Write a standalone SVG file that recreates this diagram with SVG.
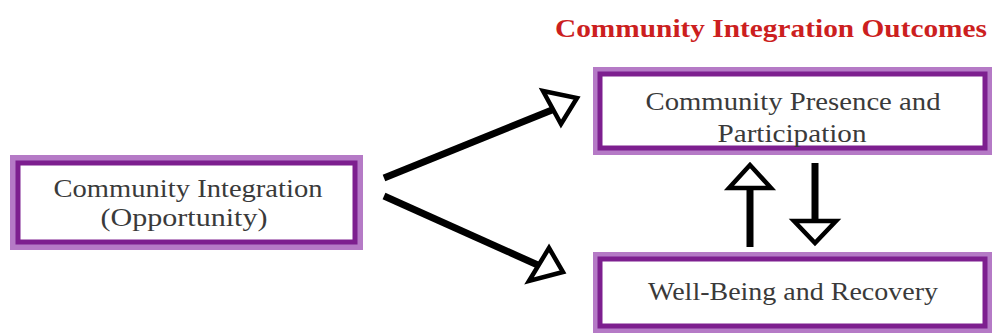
<svg xmlns="http://www.w3.org/2000/svg" width="993" height="333" viewBox="0 0 993 333">
<style>
.outer{fill:#b57ac6}
.inner{fill:#fff;stroke:#7d1f8f;stroke-width:5}
.lbl{font-family:"Liberation Serif","Times New Roman",serif;font-size:25px;fill:#3a3a3a;text-anchor:middle}
.title{font-family:"Liberation Serif","Times New Roman",serif;font-size:26px;font-weight:bold;fill:#cc1f1f}
.ln{stroke:#000;stroke-width:7;fill:none;stroke-linecap:butt}
.hd{fill:#fff;stroke:#000;stroke-width:4.5;stroke-linejoin:miter}
</style>
<rect width="993" height="333" fill="#fff"/>
<text class="title" x="555" y="37" textLength="432" lengthAdjust="spacingAndGlyphs">Community Integration Outcomes</text>
<g id="node-opportunity">
<rect class="outer" x="10" y="155" width="353" height="95"/>
<rect class="inner" x="18" y="163" width="337" height="79"/>
<text class="lbl" x="188" y="197" textLength="269" lengthAdjust="spacingAndGlyphs">Community Integration</text>
<text class="lbl" x="184" y="226" textLength="167" lengthAdjust="spacingAndGlyphs">(Opportunity)</text>
</g>
<g id="node-presence">
<rect class="outer" x="593" y="67" width="399" height="88"/>
<rect class="inner" x="600" y="74" width="385" height="74"/>
<text class="lbl" x="793" y="110" textLength="295" lengthAdjust="spacingAndGlyphs">Community Presence and</text>
<text class="lbl" x="792" y="142" textLength="149" lengthAdjust="spacingAndGlyphs">Participation</text>
</g>
<g id="node-wellbeing">
<rect class="outer" x="593" y="252" width="399" height="81"/>
<rect class="inner" x="600" y="259" width="385" height="67"/>
<text class="lbl" x="793" y="300" textLength="290" lengthAdjust="spacingAndGlyphs">Well-Being and Recovery</text>
</g>
<g id="connectors">
<line class="ln" x1="384" y1="178" x2="552" y2="110"/>
<polygon class="hd" points="543,91 577,98 561,124"/>
<line class="ln" x1="384" y1="196" x2="540" y2="266"/>
<polygon class="hd" points="549,248 563,272 529,281"/>
<line class="ln" x1="750" y1="247" x2="750" y2="187"/>
<polygon class="hd" points="750,165 729,188 771,188"/>
<line class="ln" x1="815" y1="163" x2="815" y2="221"/>
<polygon class="hd" points="794,221 836,221 815,243"/>
</g>
</svg>
